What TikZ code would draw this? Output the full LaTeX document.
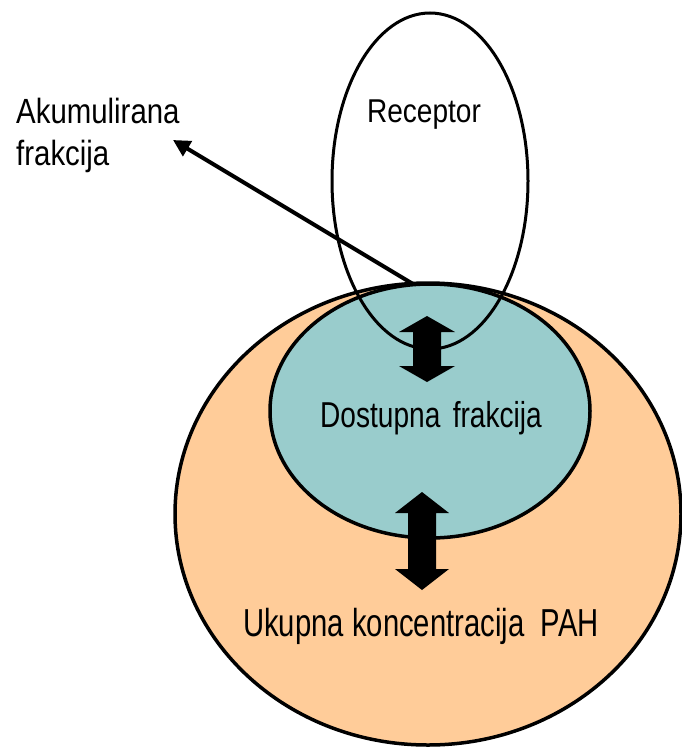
\documentclass[tikz,border=0pt]{standalone}
\usepackage{fontspec}
\setmainfont{Liberation Sans}
\usetikzlibrary{shapes.geometric,arrows.meta}
\definecolor{peach}{RGB}{255,204,153}
\definecolor{tealfill}{RGB}{153,204,204}
\tikzset{
  blob/.style={ellipse, draw=black, line width=3.5pt, inner sep=0pt},
  lbl/.style={inner sep=0pt, anchor=base, text=black},
  blockarrow/.style={fill=black},
}
\begin{document}
\begin{tikzpicture}[x=1pt,y=-1pt]
\useasboundingbox (0,0) rectangle (682,747);
% outer ellipse: total concentration
\node[blob, fill=peach, minimum width=506pt, minimum height=462pt] (total) at (428,514) {};
% inner ellipse: available fraction
\node[blob, fill=tealfill, minimum width=320pt, minimum height=254pt] (avail) at (430,411) {};
% receptor
\node[blob, line width=3pt, minimum width=196pt, minimum height=336pt] (rec) at (430,181) {};
% labels
\node[lbl] (treclbl) at (424,122) {\fontsize{33}{36}\selectfont\scalebox{0.85}[1]{Receptor}};
\node[lbl, anchor=base west] (akum) at (16,123) {\fontsize{35}{40}\selectfont\scalebox{0.84}[1]{Akumulirana}};
\node[lbl, anchor=base west] (frak) at (16,165) {\fontsize{35}{40}\selectfont\scalebox{0.84}[1]{frakcija}};
\node[lbl] (dost) at (431,427) {\fontsize{36}{40}\selectfont\scalebox{0.78}[1]{Dostupna\ \,frakcija}};
\node[lbl] (ukup) at (421,636) {\fontsize{39}{44}\selectfont\scalebox{0.75}[1]{Ukupna koncentracija\ \ PAH}};
% accumulated-fraction arrow
\coordinate (astart) at (413,284);
\coordinate (atip) at (173,140);
\draw[line width=4pt, -{Triangle[length=17pt,width=17pt]}] (astart) -- (atip);
% exchange double arrows
\fill[blockarrow, shift={(427,349)}] (0,-33) -- (28,-17) -- (14,-17) -- (14,17) -- (28,17) -- (0,33) -- (-28,17) -- (-14,17) -- (-14,-17) -- (-28,-17) -- cycle;
\fill[blockarrow, shift={(422,541)}] (0,-49) -- (27,-28) -- (14,-28) -- (14,28) -- (27,28) -- (0,49) -- (-27,28) -- (-14,28) -- (-14,-28) -- (-27,-28) -- cycle;
\end{tikzpicture}
\end{document}
